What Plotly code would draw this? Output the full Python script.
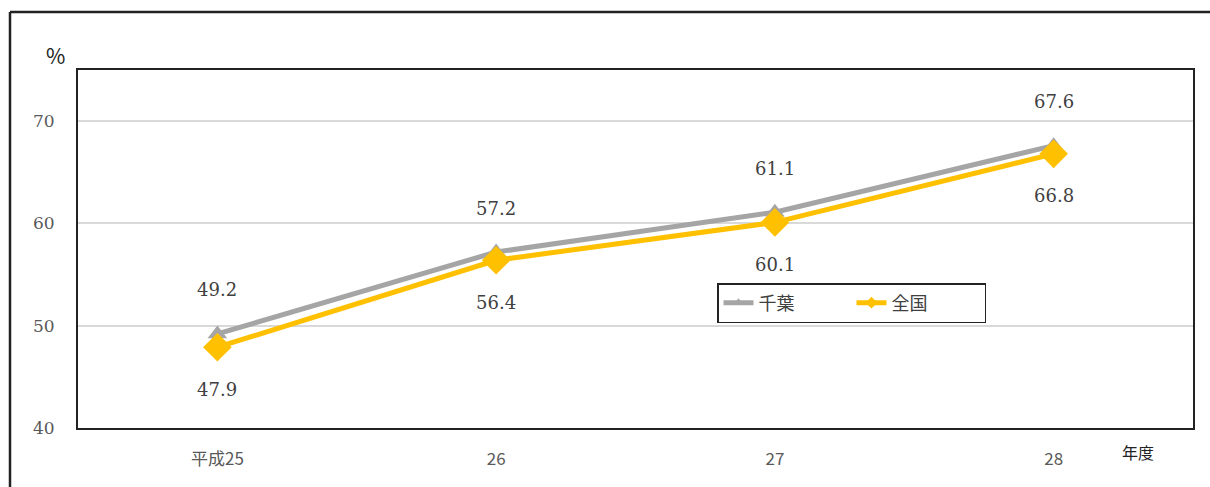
import plotly.graph_objects as go

categories = ["平成25", "26", "27", "28"]
chiba = [49.2, 57.2, 61.1, 67.6]
zenkoku = [47.9, 56.4, 60.1, 66.8]
series_names = ["千葉", "全国"]
y_ticks = [40, 50, 60, 70]

GRAY = "#A5A5A5"
GOLD = "#FFC000"
SERIF = "DejaVu Serif"
LABEL_FONT = dict(family=SERIF, size=18, color="#404040")

fig = go.Figure()

fig.add_trace(go.Scatter(
    x=categories, y=chiba, mode="lines+markers", name=series_names[0],
    line=dict(color=GRAY, width=5), marker=dict(symbol="triangle-up", size=17, color=GRAY),
    showlegend=False, cliponaxis=False))
fig.add_trace(go.Scatter(
    x=categories, y=zenkoku, mode="lines+markers", name=series_names[1],
    line=dict(color=GOLD, width=5), marker=dict(symbol="diamond", size=22, color=GOLD),
    showlegend=False, cliponaxis=False))

# legend-only entries with small markers
fig.add_trace(go.Scatter(
    x=[None], y=[None], mode="lines+markers", name=series_names[0],
    line=dict(color=GRAY, width=5), marker=dict(symbol="triangle-up", size=9, color=GRAY)))
fig.add_trace(go.Scatter(
    x=[None], y=[None], mode="lines+markers", name=series_names[1],
    line=dict(color=GOLD, width=5), marker=dict(symbol="diamond", size=9, color=GOLD)))

annotations = []
for i, v in enumerate(chiba):
    annotations.append(dict(x=i, y=v, xref="x", yref="y", text=f"{v:.1f}", showarrow=False,
                            yshift=44, font=LABEL_FONT))
for i, v in enumerate(zenkoku):
    annotations.append(dict(x=i, y=v, xref="x", yref="y", text=f"{v:.1f}", showarrow=False,
                            yshift=-42, font=LABEL_FONT))

W, H = 1210, 487
L, R, T, B = 78, 17, 70, 59
pw, ph = W - L - R, H - T - B


def px_x(px):
    return (px - L) / pw


def px_y(py):
    return 1 - (py - T) / ph


annotations.append(dict(x=px_x(55), y=px_y(55), xref="paper", yref="paper", text="%", showarrow=False,
                        xanchor="center", yanchor="middle",
                        font=dict(family="Noto Sans CJK JP", size=21, color="#222222")))
annotations.append(dict(x=px_x(1138), y=px_y(452), xref="paper", yref="paper", text="年度",
                        xanchor="center", yanchor="middle",
                        showarrow=False, font=dict(family="Noto Sans CJK JP", size=16, color="#222222")))

fig.update_layout(
    width=W, height=H,
    margin=dict(l=L, r=R, t=T, b=B),
    paper_bgcolor="white", plot_bgcolor="white",
    annotations=annotations,
    legend=dict(orientation="h", x=px_x(717), y=px_y(283),
                xanchor="left", yanchor="top",
                bordercolor="#222222", borderwidth=1.5, bgcolor="white",
                font=dict(family="Noto Sans CJK JP", size=18, color="#404040"),
                itemwidth=30, entrywidth=88, tracegroupgap=0),
    xaxis=dict(type="category", range=[-0.5, 3.5], showgrid=False,
               showline=True, linecolor="#222222", linewidth=2, mirror=True,
               ticks="", ticklabelstandoff=15,
               tickfont=dict(family="Noto Sans CJK JP", size=17, color="#595959")),
    yaxis=dict(range=[40, 75], tickvals=y_ticks, showgrid=True, gridcolor="#D9D9D9", gridwidth=1.5,
               showline=True, linecolor="#222222", linewidth=2, mirror=True,
               ticks="", ticklabelstandoff=18, zeroline=False,
               tickfont=dict(family=SERIF, size=17, color="#595959")),
    shapes=[
        dict(type="line", xref="paper", yref="paper", x0=px_x(10), x1=px_x(10),
             y0=px_y(12), y1=px_y(487), line=dict(color="#222222", width=2.5)),
        dict(type="line", xref="paper", yref="paper", x0=px_x(10), x1=px_x(1212),
             y0=px_y(12), y1=px_y(12), line=dict(color="#222222", width=2.5)),
    ],
)

fig.write_html("out.html", config={"displayModeBar": False},
               post_script="document.body.style.margin='0';document.body.style.overflow='hidden';")
